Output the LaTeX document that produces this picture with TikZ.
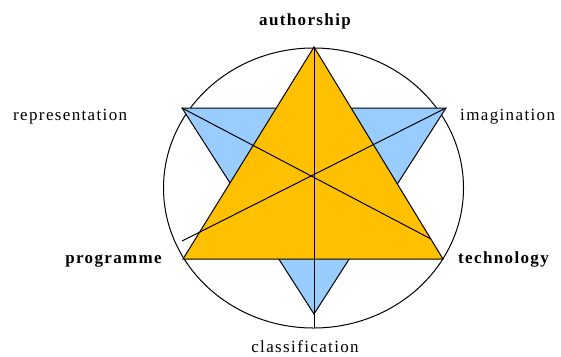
\documentclass[tikz,border=0pt]{standalone}
\usepackage{fontspec}
\setmainfont{Liberation Serif}[LetterSpace=8]
\definecolor{orangefill}{RGB}{255,192,0}
\definecolor{bluefill}{RGB}{153,204,255}
\begin{document}
\begin{tikzpicture}[x=1bp,y=-1bp,
  lbl/.style={inner sep=0pt,font=\fontsize{17bp}{19bp}\selectfont},
  blbl/.style={inner sep=0pt,font=\fontsize{17bp}{19bp}\selectfont\bfseries},
  edge/.style={black,line width=1bp},
  tri/.style={draw=black,line width=1bp,line join=miter}]
\useasboundingbox (0,0) rectangle (561,356);
% vertices
\coordinate (ctr) at (313.5,188);
\coordinate (apex) at (314,47);
\coordinate (ol) at (183,259);
\coordinate (or) at (443,259);
\coordinate (bl) at (182,108);
\coordinate (br) at (446,108);
\coordinate (bb) at (314,314);
\coordinate (bot) at (314,328);
\coordinate (d1end) at (431,239);
\coordinate (d2end) at (182,241);
% circle
\draw[edge] (ctr) ellipse [x radius=150, y radius=140];
% triangles
\filldraw[tri,fill=bluefill] (bl) -- (br) -- (bb) -- cycle;
\filldraw[tri,fill=orangefill] (apex) -- (or) -- (ol) -- cycle;
% lines
\draw[edge] (apex) -- (bot);
\draw[edge] (bl) -- (d1end);
\draw[edge] (br) -- (d2end);
% labels
\node[blbl,anchor=base] (auth) at (305,25) {authorship};
\node[lbl,anchor=base west] (repr) at (13,120) {representation};
\node[lbl,anchor=base west] (imag) at (460,120) {imagination};
\node[blbl,anchor=base east] (prog) at (162,263) {programme};
\node[blbl,anchor=base west] (tech) at (458,263) {technology};
\node[lbl,anchor=base] (clas) at (305,352) {classification};
\end{tikzpicture}
\end{document}
